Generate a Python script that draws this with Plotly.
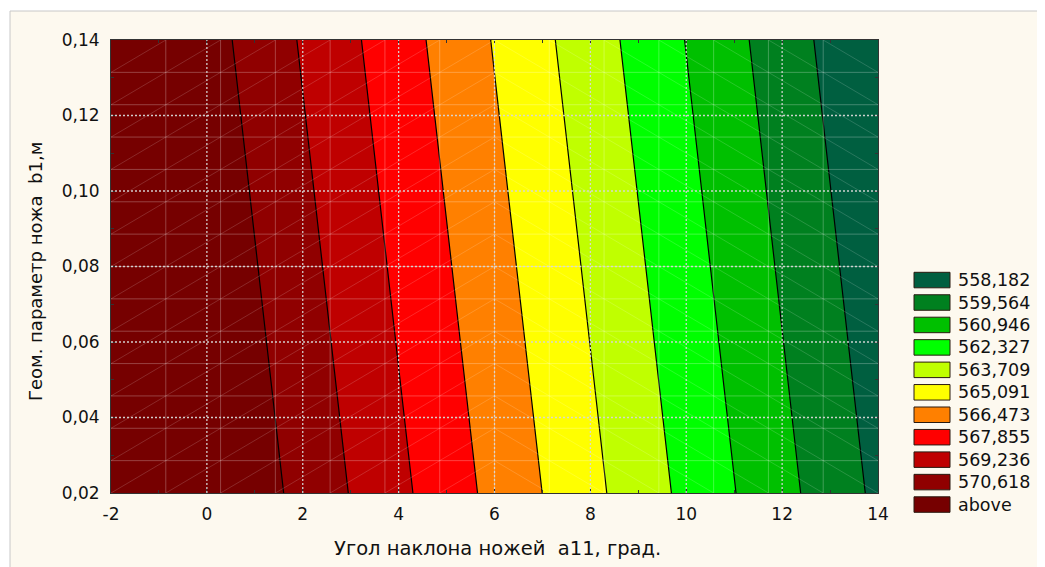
import numpy as np
import plotly.graph_objects as go

# ---------------- data ----------------
x_nodes = [-2, 6, 14]
y_nodes = [0.02, 0.08, 0.14]
z_grid = [
    [574.31, 566.11, 557.91],
    [573.76, 565.56, 557.36],
    [573.21, 565.01, 556.81],
]
levels = [558.182, 559.564, 560.946, 562.327, 563.709,
          565.091, 566.473, 567.855, 569.236, 570.618]
legend_labels = ["558,182", "559,564", "560,946", "562,327", "563,709",
                 "565,091", "566,473", "567,855", "569,236", "570,618", "above"]
band_colors = ["#005F40", "#00801F", "#00C000", "#00FF00", "#C0FF00",
               "#FFFF00", "#FF8000", "#FF0000", "#BF0000", "#900000", "#760000"]
x_ticks = [-2, 0, 2, 4, 6, 8, 10, 12, 14]
x_tick_labels = ["-2", "0", "2", "4", "6", "8", "10", "12", "14"]
y_ticks = [0.02, 0.04, 0.06, 0.08, 0.10, 0.12, 0.14]
y_tick_labels = ["0,02", "0,04", "0,06", "0,08", "0,10", "0,12", "0,14"]
x_title = "Угол наклона ножей\u00a0 a11, град."
y_title = "Геом. параметр ножа\u00a0 b1,м"

# ---------------- layout geometry ----------------
OFF = 8                               # page body margin
W, H = 1045 - OFF, 567 - OFF
PL, PR, PT, PB = 111 - OFF, 878 - OFF, 40 - OFF, 493 - OFF   # plot area (figure px)
FONT = "DejaVu Sans"
FS = 17
FS_LEG = 17.5
FS_XT = 19.5
FS_YT = 18


def px_x(p):
    """screen px -> paper x"""
    return (p - OFF - PL) / (PR - PL)


def px_y(p):
    """screen px -> paper y"""
    return (PB - (p - OFF)) / (PB - PT)


# stepped colorscale: band k is centred at k/10
nb = len(band_colors)
colorscale = []
for k, c in enumerate(band_colors):
    lo = max(0.0, (k - 0.5) / (nb - 1))
    hi = min(1.0, (k + 0.5) / (nb - 1))
    colorscale += [[lo, c], [hi, c]]

fig = go.Figure()

fig.add_trace(go.Contour(
    x=x_nodes, y=y_nodes, z=z_grid,
    autocontour=False,
    contours=dict(start=levels[0], end=levels[-1],
                  size=(levels[-1] - levels[0]) / (len(levels) - 1),
                  coloring="fill", showlines=True),
    line=dict(color="black", width=1.2),
    colorscale=colorscale, showscale=False, hoverinfo="skip",
))

# faint triangulation mesh (Statistica style)
xm = np.linspace(x_ticks[0], x_ticks[-1], 15)
ym = np.linspace(y_ticks[0], y_ticks[-1], 15)
gx, gy = [], []
for v in xm[1:-1]:
    gx += [v, v, None]
    gy += [ym[0], ym[-1], None]
for v in ym[1:-1]:
    gx += [xm[0], xm[-1], None]
    gy += [v, v, None]
fig.add_trace(go.Scatter(x=gx, y=gy, mode="lines", hoverinfo="skip",
                         line=dict(color="rgba(255,255,255,0.25)", width=1),
                         showlegend=False))
dx, dy = [], []
for i in range(len(xm) - 1):
    for j in range(len(ym) - 1):
        if i < 7:
            dx += [xm[i], xm[i + 1], None]
            dy += [ym[j], ym[j + 1], None]
        else:
            dx += [xm[i], xm[i + 1], None]
            dy += [ym[j + 1], ym[j], None]
fig.add_trace(go.Scatter(x=dx, y=dy, mode="lines", hoverinfo="skip",
                         line=dict(color="rgba(255,255,255,0.2)", width=0.8),
                         showlegend=False))

shapes = []
# outer cream panel with thin grey border
shapes.append(dict(type="rect", xref="paper", yref="paper",
                   x0=px_x(10), x1=px_x(1060), y0=px_y(580), y1=px_y(11),
                   fillcolor="#FDF9EF", line=dict(color="#C8C8C8", width=1),
                   layer="below"))
# dotted major grid lines
for v in x_ticks[1:-1]:
    shapes.append(dict(type="line", xref="x", yref="paper", x0=v, x1=v, y0=0, y1=1,
                       line=dict(color="rgba(215,215,215,0.95)", width=1.3, dash="2px,2px")))
for v in y_ticks[1:-1]:
    shapes.append(dict(type="line", xref="paper", yref="y", x0=0, x1=1, y0=v, y1=v,
                       line=dict(color="rgba(215,215,215,0.95)", width=1.3, dash="2px,2px")))

annotations = []
# legend (boxes + labels)
box_top0, box_step, box_h = 272.3, 22.45, 15.5
for i, (lab, col) in enumerate(zip(legend_labels, band_colors)):
    top = box_top0 + i * box_step
    shapes.append(dict(type="rect", xref="paper", yref="paper",
                       x0=px_x(914), x1=px_x(950), y0=px_y(top + box_h), y1=px_y(top),
                       fillcolor=col, line=dict(color="#2a1a10", width=1)))
    annotations.append(dict(xref="paper", yref="paper", x=px_x(956),
                            y=px_y(top + box_h / 2), text=lab, showarrow=False,
                            xanchor="left", yanchor="middle",
                            font=dict(family=FONT, size=FS_LEG, color="#111")))

# axis titles
annotations.append(dict(xref="paper", yref="paper", x=px_x(497), y=px_y(548),
                        text=x_title, showarrow=False, xanchor="center", yanchor="middle",
                        font=dict(family=FONT, size=FS_XT, color="#111")))
annotations.append(dict(xref="paper", yref="paper", x=px_x(35), y=px_y(272),
                        text=y_title, showarrow=False, textangle=-90,
                        xanchor="center", yanchor="middle",
                        font=dict(family=FONT, size=FS_YT, color="#111")))

axis_common = dict(showgrid=False, zeroline=False, showline=True, linecolor="#333",
                   linewidth=1, mirror="allticks", ticks="inside", ticklen=4,
                   tickcolor="#333", tickfont=dict(family=FONT, size=FS, color="#111"))

fig.update_layout(
    width=W, height=H,
    margin=dict(l=PL, r=W - PR, t=PT, b=H - PB),
    paper_bgcolor="white", plot_bgcolor="#FDF9EF",
    separators=", ",
    showlegend=False,
    shapes=shapes, annotations=annotations,
    xaxis=dict(range=[x_ticks[0], x_ticks[-1]], tickmode="array",
               tickvals=x_ticks, ticktext=x_tick_labels, ticklabelstandoff=6,
               minor=dict(tickmode="linear", tick0=x_ticks[0], dtick=1,
                          ticks="inside", ticklen=3, tickcolor="#333", showgrid=False),
               **axis_common),
    yaxis=dict(range=[y_ticks[0], y_ticks[-1]], tickmode="array",
               tickvals=y_ticks, ticktext=y_tick_labels, ticklabelstandoff=7,
               minor=dict(tickmode="linear", tick0=y_ticks[0], dtick=0.01,
                          ticks="inside", ticklen=3, tickcolor="#333", showgrid=False),
               **axis_common),
)

fig.write_html("out.html")
